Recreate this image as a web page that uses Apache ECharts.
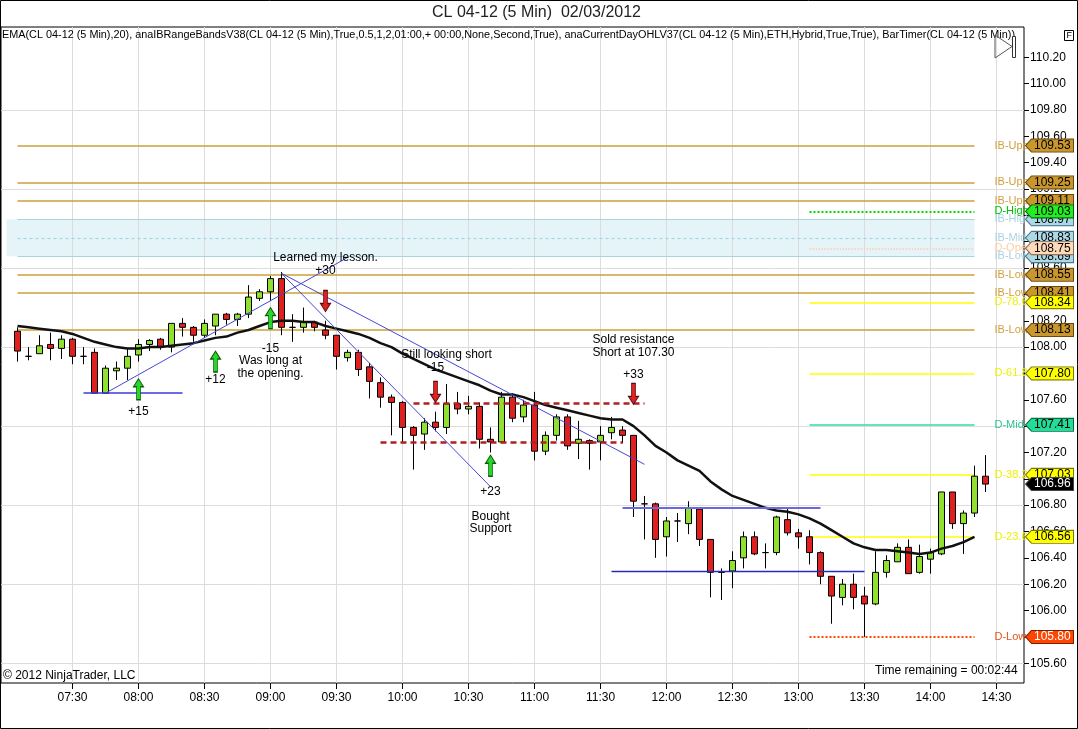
<!DOCTYPE html>
<html><head><meta charset="utf-8">
<script src="https://cdn.jsdelivr.net/npm/echarts@6/dist/echarts.min.js"></script>
<style>html,body{margin:0;padding:0;background:#fff}#chart{width:1078px;height:729px}</style>
</head><body><div id="chart"></div>
<script>
// ---------- DATA ----------
const times = [
 '07:00','07:05','07:10','07:15','07:20','07:25','07:30','07:35','07:40','07:45','07:50','07:55',
 '08:00','08:05','08:10','08:15','08:20','08:25','08:30','08:35','08:40','08:45','08:50','08:55',
 '09:00','09:05','09:10','09:15','09:20','09:25','09:30','09:35','09:40','09:45','09:50','09:55',
 '10:00','10:05','10:10','10:15','10:20','10:25','10:30','10:35','10:40','10:45','10:50','10:55',
 '11:00','11:05','11:10','11:15','11:20','11:25','11:30','11:35','11:40','11:45','11:50','11:55',
 '12:00','12:05','12:10','12:15','12:20','12:25','12:30','12:35','12:40','12:45','12:50','12:55',
 '13:00','13:05','13:10','13:15','13:20','13:25','13:30','13:35','13:40','13:45','13:50','13:55',
 '14:00','14:05','14:10','14:15','14:20','14:25','14:30','14:35','14:40'];
// candles 07:05 .. 14:25
const opens = [108.12,107.93,107.95,108.02,107.99,108.06,107.93,107.96,107.65,107.82,
 107.84,107.94,108.02,108.06,108.00,108.18,108.15,108.09,108.16,108.25,
 108.21,108.25,108.37,108.42,108.52,108.15,108.15,108.19,108.13,108.09,
 107.92,107.96,107.85,107.73,107.62,107.58,107.39,107.34,107.43,107.39,
 107.57,107.53,107.55,107.30,107.28,107.62,107.47,107.56,107.21,107.33,
 107.47,107.27,107.29,107.28,107.35,107.37,107.33,106.81,106.81,106.56,
 106.68,106.66,106.77,106.54,106.29,106.30,106.40,106.56,106.44,106.44,
 106.69,106.59,106.56,106.44,106.26,106.10,106.20,106.11,106.05,106.29,
 106.37,106.48,106.29,106.39,106.43,106.90,106.66,106.74,107.02];
const closes = [107.97,107.93,108.01,107.99,108.06,107.93,107.93,107.65,107.84,107.84,
 107.93,108.02,108.05,108.00,108.18,108.15,108.09,108.18,108.25,108.21,
 108.25,108.38,108.42,108.52,108.15,108.15,108.19,108.15,108.09,107.93,
 107.96,107.83,107.74,107.62,107.58,107.39,107.33,107.43,107.39,107.57,
 107.53,107.55,107.30,107.28,107.62,107.46,107.56,107.21,107.33,107.47,
 107.25,107.30,107.27,107.33,107.39,107.33,106.83,106.81,106.54,106.68,
 106.68,106.78,106.54,106.29,106.29,106.38,106.56,106.43,106.44,106.71,
 106.59,106.56,106.44,106.26,106.11,106.20,106.10,106.05,106.29,106.38,
 106.48,106.28,106.41,106.44,106.90,106.66,106.74,107.02,106.96];
const highs = [108.15,108.00,108.09,108.11,108.09,108.07,108.00,107.99,107.86,107.89,
 107.99,108.06,108.06,108.07,108.18,108.22,108.16,108.21,108.25,108.26,
 108.26,108.47,108.44,108.54,108.57,108.25,108.30,108.20,108.20,108.09,
 107.98,107.98,107.88,107.77,107.64,107.59,107.40,107.46,107.51,107.72,
 107.66,107.63,107.58,107.39,107.66,107.65,107.60,107.66,107.36,107.49,
 107.49,107.44,107.30,107.40,107.47,107.40,107.33,106.87,106.82,106.71,
 106.74,106.83,106.78,106.54,106.32,106.45,106.60,106.60,106.51,106.72,
 106.78,106.62,106.61,106.45,106.26,106.24,106.28,106.18,106.45,106.42,
 106.51,106.54,106.50,106.47,106.90,106.90,106.76,107.10,107.18];
const lows = [107.89,107.90,107.95,107.90,107.91,107.87,107.87,107.65,107.65,107.75,
 107.75,107.89,107.97,107.98,107.96,108.08,108.04,108.07,108.09,108.17,
 108.16,108.22,108.35,108.35,108.09,108.04,108.11,108.12,108.06,107.83,
 107.89,107.78,107.61,107.54,107.33,107.28,107.07,107.22,107.36,107.34,
 107.49,107.49,107.23,107.20,107.27,107.43,107.43,107.14,107.18,107.29,
 107.22,107.15,107.07,107.14,107.30,107.27,106.71,106.54,106.40,106.41,
 106.52,106.58,106.49,106.10,106.08,106.17,106.32,106.42,106.32,106.42,
 106.57,106.47,106.35,106.20,105.90,106.04,106.01,105.80,106.04,106.25,
 106.37,106.28,106.28,106.28,106.42,106.62,106.43,106.71,106.90];
// EMA(20) 07:05 .. 14:20
const emaValues = [108.16,108.15,108.14,108.13,108.12,108.10,108.07,108.04,108.02,108.00,
 107.99,107.99,108.00,108.00,108.01,108.02,108.03,108.05,108.07,108.08,
 108.11,108.13,108.16,108.19,108.20,108.20,108.19,108.19,108.16,108.14,
 108.12,108.10,108.07,108.03,108.00,107.95,107.91,107.87,107.83,107.80,
 107.77,107.74,107.71,107.67,107.64,107.64,107.62,107.59,107.56,107.54,
 107.52,107.50,107.48,107.46,107.45,107.45,107.40,107.33,107.25,107.20,
 107.14,107.10,107.06,106.98,106.92,106.87,106.84,106.81,106.78,106.76,
 106.75,106.73,106.70,106.66,106.61,106.56,106.51,106.48,106.46,106.46,
 106.45,106.44,106.43,106.44,106.47,106.49,106.52,106.56];
const priceTicks = [105.6,105.8,106.0,106.2,106.4,106.6,106.8,107.0,107.2,107.4,107.6,107.8,
 108.0,108.2,108.4,108.6,108.8,109.0,109.2,109.4,109.6,109.8,110.0,110.2];
const gridPrices = [105.6,106.2,106.8,107.4,108.0,108.6,109.2,109.8];
const gridTimes = ['07:30','08:00','08:30','09:00','09:30','10:00','10:30','11:00','11:30',
 '12:00','12:30','13:00','13:30','14:00','14:30'];
// Initial-balance range bands
const ibLevels = [109.53,109.25,109.11,108.55,108.41,108.13];
const ibLevelNames = ['IB-Upper','IB-Upper','IB-Upper','IB-Lower','IB-Lower','IB-Lower'];
const ibBand = [108.97,108.83,108.69];
const ibBandNames = ['IB-High','IB-Mid','IB-Low'];
// Current day OHL levels
const dayLevels = [109.03,108.75,108.34,107.80,107.41,107.03,106.56,105.80];
const dayLevelNames = ['D-High','D-Open','D-78.6','D-61.8','D-Mid','D-38.2','D-23.6','D-Low'];
const lastPrice = 106.96;
// drawn lines
const upTrend = [['07:45',107.65],['09:35',108.68]];
const downTrendA = [['09:05',108.56],['11:50',107.11]];
const downTrendB = [['09:05',108.56],['10:40',106.94]];
const longEntryLine = [['07:35',107.65],['08:20',107.65]];
const resistanceLine = [['10:05',107.57],['11:50',107.57]];
const supportRangeLine = [['09:50',107.28],['11:40',107.28]];
const breakdownLine = [['11:40',106.78],['13:10',106.78]];
const lowSupportLine = [['11:35',106.30],['13:30',106.30]];
// arrows
const upArrowTimes = ['08:00','08:35','09:00','10:40'];
const upArrowPrices = [107.68,107.89,108.22,107.10];
const downArrowTimes = ['09:25','10:15','11:45'];
const downArrowPrices = [108.35,107.66,107.645];
// notes
const noteTimes = ['09:25','09:25','09:00','09:00','09:00','08:35','08:00','10:20','10:15','11:45','11:45','11:45','10:40','10:40','10:40'];
const notePrices = [108.68,108.58,107.99,107.90,107.80,107.75,107.51,107.94,107.84,108.06,107.96,107.79,106.90,106.71,106.62];
const noteTexts = ['Learned my lesson.','+30','-15','Was long at','the opening.','+12','+15','Still looking short','-15','Sold resistance','Short at 107.30','+33','+23','Bought','Support'];

// ---------- BUILD ----------
const FONT = 'Liberation Sans';
const Y_MIN = 105.45, Y_MAX = 110.43;
const candleRows = opens.map((o, i) => [times[i + 1], o, closes[i], lows[i], highs[i]]);
const emaRows = emaValues.map((v, i) => [times[i + 1], v]);
const FIRST = times[1], LINE_END = '14:20', DAY_START = '13:05';

const GOLD = '#C9A23A', LBLUE = '#A9D3E2', YEL = '#FFFF00';
const dayStyle = {
  'D-High': {color:'#00DD00', width:2, type:'dotted', label:'#00C000', tag:'dhigh'},
  'D-Open': {color:'#FFCBA4', width:1.5, type:'dotted', label:'#FFCBA4', tag:'dopen'},
  'D-78.6': {color:YEL, width:1.5, type:'solid', label:'#F0F000', tag:'fib'},
  'D-61.8': {color:YEL, width:1.5, type:'solid', label:'#F0F000', tag:'fib'},
  'D-Mid':  {color:'#2EE0A0', width:1.5, type:'solid', label:'#2EC490', tag:'dmid'},
  'D-38.2': {color:YEL, width:1.5, type:'solid', label:'#F0F000', tag:'fib'},
  'D-23.6': {color:YEL, width:1.5, type:'solid', label:'#F0F000', tag:'fib'},
  'D-Low':  {color:'#FF4500', width:2, type:'dotted', label:'#E0541B', tag:'dlow'}
};
function levelLine(t1, t2, v, name, color, width, type, labelColor) {
  const ls = {color, width, type};
  const lb = {show:true, position:'end', formatter:name, color:labelColor, fontSize:11, fontFamily:FONT,
    distance:20, width:38, overflow:'truncate', ellipsis:''};
  return [{coord:[t1, v], lineStyle:ls, label:lb}, {coord:[t2, v], lineStyle:ls, label:lb}];
}
const levelData = [];
ibLevels.forEach((v, i) => levelData.push(levelLine(FIRST, LINE_END, v, ibLevelNames[i], GOLD, 1.5, 'solid', '#D0A040')));
ibBand.forEach((v, i) => levelData.push(levelLine(FIRST, LINE_END, v, ibBandNames[i], LBLUE, 1.2, i === 1 ? [3,3] : 'solid', '#A9D3E2')));
dayLevels.forEach((v, i) => { const s = dayStyle[dayLevelNames[i]]; levelData.push(levelLine(DAY_START, LINE_END, v, dayLevelNames[i], s.color, s.width, s.type, s.label)); });

function seg(pts, color, width, type) {
  const ls = {color, width, type};
  return [{coord:pts[0], lineStyle:ls}, {coord:pts[1], lineStyle:ls}];
}
const trendData = [
  seg(upTrend, '#4646D6', 1, 'solid'),
  seg(downTrendA, '#4646D6', 1, 'solid'),
  seg(downTrendB, '#4646D6', 1, 'solid'),
  seg(longEntryLine, '#3A3AD8', 1.5, 'solid'),
  seg(breakdownLine, '#6A6AE0', 2, 'solid'),
  seg(lowSupportLine, '#2A2AB8', 1.3, 'solid'),
  seg(resistanceLine, '#B02020', 2.5, [6,4]),
  seg(supportRangeLine, '#B02020', 2.5, [6,4])
];

const UP_PATH = 'path://M5,0 L10,8 L7,8 L7,21 L3,21 L3,8 L0,8 Z';
const DOWN_PATH = 'path://M3,0 L7,0 L7,13 L10,13 L5,21 L0,13 L3,13 Z';
const pointData = [];
upArrowTimes.forEach((t, i) => pointData.push({coord:[t, upArrowPrices[i]], symbol:UP_PATH, symbolSize:[10,21],
  itemStyle:{color:'#2BD62B', borderColor:'#0A5A0A', borderWidth:1}, label:{show:false}}));
downArrowTimes.forEach((t, i) => pointData.push({coord:[t, downArrowPrices[i]], symbol:DOWN_PATH, symbolSize:[10,21],
  itemStyle:{color:'#DD2222', borderColor:'#5A0A0A', borderWidth:1}, label:{show:false}}));
noteTexts.forEach((txt, i) => pointData.push({coord:[noteTimes[i], notePrices[i]], symbol:'circle', symbolSize:1,
  itemStyle:{color:'rgba(0,0,0,0)'}, label:{show:true, position:'inside', formatter:txt, color:'#000', fontSize:12, fontFamily:FONT}}));

// price tags on the axis
function makeTag(fill, stroke) {
  const c = document.createElement('canvas'); c.width = 98; c.height = 28;
  const g = c.getContext('2d');
  g.beginPath(); g.moveTo(1,14); g.lineTo(13,1); g.lineTo(97,1); g.lineTo(97,27); g.lineTo(13,27); g.closePath();
  g.fillStyle = fill; g.fill(); g.lineWidth = 2; g.strokeStyle = stroke; g.stroke();
  return c;
}
function tagRich(fill, stroke, text) {
  return {backgroundColor:{image:makeTag(fill, stroke)}, color:text, fontSize:12, fontFamily:FONT,
    lineHeight:14, height:14, width:38, padding:[0,2,0,9], align:'left'};
}
const rich = {
  ib: tagRich('#C9972D', '#6A4A08', '#000'),
  band: tagRich('#ADD8E6', '#4A7A8A', '#000'),
  dhigh: tagRich('#22EE22', '#066606', '#000'),
  dopen: tagRich('#FFDAB9', '#8A6A50', '#000'),
  fib: tagRich('#FFFF00', '#77770A', '#000'),
  dmid: tagRich('#22DD99', '#0A6A44', '#000'),
  dlow: tagRich('#FF4500', '#7A2000', '#fff'),
  last: tagRich('#000000', '#444', '#fff')
};
const tagKind = {};
ibLevels.forEach(v => tagKind[v.toFixed(2)] = 'ib');
ibBand.forEach(v => tagKind[v.toFixed(2)] = 'band');
dayLevels.forEach((v, i) => tagKind[v.toFixed(2)] = dayStyle[dayLevelNames[i]].tag);
tagKind[lastPrice.toFixed(2)] = 'last';
const topLayerNames = ['D-High','D-Open','D-78.6'];
const tagsTop = dayLevels.filter((v, i) => topLayerNames.includes(dayLevelNames[i])).concat([lastPrice]);
const tagsBottom = ibLevels.concat(ibBand, dayLevels.filter((v, i) => !topLayerNames.includes(dayLevelNames[i])));
const tagFormatter = v => '{' + tagKind[v.toFixed(2)] + '|' + v.toFixed(2) + '}';

const showTime = (idx, val) => idx > 0 && (val.slice(3) === '00' || val.slice(3) === '30');

const option = {
  animation: false,
  backgroundColor: '#fff',
  textStyle: {fontFamily: FONT},
  title: [
    {text:'CL 04-12 (5 Min)  02/03/2012', left:432, top:5, padding:0, textStyle:{fontSize:16, fontWeight:'normal', color:'#222', fontFamily:FONT}},
    {text:'EMA(CL 04-12 (5 Min),20), anaIBRangeBandsV38(CL 04-12 (5 Min),True,0.5,1,2,01:00,+ 00:00,None,Second,True), anaCurrentDayOHLV37(CL 04-12 (5 Min),ETH,Hybrid,True,True), BarTimer(CL 04-12 (5 Min))',
      left:2, top:29, padding:0, textStyle:{fontSize:10.85, fontWeight:'normal', color:'#000', fontFamily:FONT}},
    {text:'© 2012 NinjaTrader, LLC', left:3, top:670, padding:0, textStyle:{fontSize:12, fontWeight:'normal', color:'#000', fontFamily:FONT}},
    {text:'Time remaining = 00:02:44', left:875, top:665, padding:0, textStyle:{fontSize:12, fontWeight:'normal', color:'#000', fontFamily:FONT}}
  ],
  grid: {left:1, right:54, top:27, bottom:46, show:true, borderColor:'#000', borderWidth:1, backgroundColor:'#fff', containLabel:false, outerBoundsMode:'none'},
  xAxis: {type:'category', data:times, boundaryGap:true,
    axisLine:{show:false},
    axisTick:{show:true, alignWithLabel:true, interval:showTime, length:6, lineStyle:{color:'#000'}},
    axisLabel:{interval:showTime, color:'#000', fontSize:12, margin:9, fontFamily:FONT},
    splitLine:{show:false}},
  yAxis: [
    {type:'value', position:'right', min:Y_MIN, max:Y_MAX, z:1,
      axisLine:{show:false}, splitLine:{show:false},
      axisTick:{show:true, customValues:priceTicks, length:5, lineStyle:{color:'#000'}},
      axisLabel:{customValues:priceTicks, formatter:v => v.toFixed(2), color:'#000', fontSize:12, margin:6, fontFamily:FONT}},
    {type:'value', position:'right', min:Y_MIN, max:Y_MAX, z:10,
      axisLine:{show:false}, axisTick:{show:false}, splitLine:{show:false},
      axisLabel:{customValues:tagsBottom, formatter:tagFormatter, rich, margin:1}},
    {type:'value', position:'right', min:Y_MIN, max:Y_MAX, z:11,
      axisLine:{show:false}, axisTick:{show:false}, splitLine:{show:false},
      axisLabel:{customValues:tagsTop, formatter:tagFormatter, rich, margin:1}}
  ],
  series: [
    {type:'line', name:'grid', data:[], silent:true,
      markArea:{silent:true, z:0, itemStyle:{color:'#E4F4F9'}, label:{show:false},
        data:[[{coord:[times[0], ibBand[0]]}, {coord:[LINE_END, ibBand[2]]}]]},
      markLine:{silent:true, z:1, symbol:['none','none'], label:{show:false}, lineStyle:{color:'#DCDCDC', width:1, type:'solid'},
        data: gridPrices.map(v => ({yAxis:v})).concat(gridTimes.map(t => ({xAxis:t})))}},
    {type:'line', name:'levels', data:[], silent:true,
      markLine:{silent:true, z:1, symbol:['none','none'], data:levelData}},
    {type:'candlestick', name:'CL 04-12', data:candleRows, z:2,
      dimensions:['time','open','close','low','high'], encode:{x:'time', y:['open','close','low','high']},
      barWidth:7,
      itemStyle:{color:'#90E030', color0:'#E0201E', borderColor:'#000', borderColor0:'#000', borderColorDoji:'#000', borderWidth:1}},
    {type:'line', name:'EMA', data:emaRows, symbol:'none', silent:true, z:3, lineStyle:{color:'#111', width:2.5}},
    {type:'line', name:'drawings', data:[], silent:true,
      markLine:{silent:true, z:4, symbol:['none','none'], label:{show:false}, data:trendData},
      markPoint:{silent:true, z:5, data:pointData}}
  ],
  graphic: [
    {type:'rect', silent:true, z:100, shape:{x:0.5, y:0.5, width:1077, height:728}, style:{fill:'none', stroke:'#000', lineWidth:1}},
    {type:'polygon', silent:true, z:100, shape:{points:[[995,35],[1012,46.5],[995,58]]}, style:{fill:'none', stroke:'#555', lineWidth:1}},
    {type:'rect', silent:true, z:100, shape:{x:1012.5, y:36.5, width:3, height:21}, style:{fill:'#fff', stroke:'#333', lineWidth:1}},
    {type:'rect', silent:true, z:100, shape:{x:1064.5, y:30.5, width:9, height:10}, style:{fill:'#fff', stroke:'#000', lineWidth:1}},
    {type:'text', silent:true, z:101, x:1066.5, y:31.5, style:{text:'F', fontSize:9, fill:'#000', fontFamily:FONT}}
  ]
};
const chart = echarts.init(document.getElementById('chart'), null, {renderer:'canvas'});
chart.setOption(option);
</script>
</body></html>
